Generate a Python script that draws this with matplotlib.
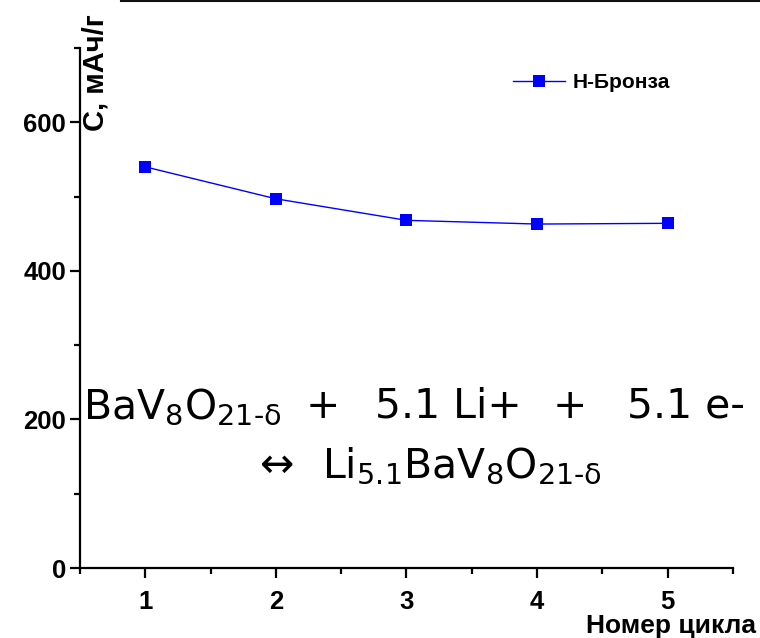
import matplotlib
matplotlib.use("Agg")
import matplotlib.pyplot as plt
from matplotlib.ticker import MultipleLocator
from matplotlib.lines import Line2D

# Discharge capacity by cycle number
cycles = [1, 2, 3, 4, 5]
capacity = [540, 497, 468, 463, 464]
series_name = "Н-Бронза"
x_label = "Номер цикла"
y_label = "C, мАч/г"
y_ticks = [0, 200, 400, 600]

W, H = 760, 638
fig = plt.figure(figsize=(W / 100, H / 100), dpi=100)
ax = fig.add_axes([80 / W, 1 - 568 / H, (733 - 80) / W, (568 - 48) / H])

bold = dict(family="Liberation Sans", weight="bold")


def fx(px):
    return px / W


def fy(py):
    return 1 - py / H


ax.plot(cycles, capacity, color="#0000ff", lw=1.0, marker="s", ms=8,
        markeredgewidth=0, label=series_name)

ax.set_xlim(0.5, 5.5)
ax.set_ylim(0, 700)
ax.set_xticks(cycles)
ax.set_yticks(y_ticks)
ax.xaxis.set_minor_locator(MultipleLocator(0.5))
ax.yaxis.set_minor_locator(MultipleLocator(100))

for s in ("top", "right"):
    ax.spines[s].set_visible(False)
for s in ("left", "bottom"):
    ax.spines[s].set_linewidth(1.6)

ax.tick_params(which="major", length=7, width=1.6, direction="out")
ax.tick_params(which="minor", length=4.5, width=1.6, direction="out")
ax.tick_params(axis="y", pad=3)
ax.tick_params(axis="x", pad=9)
for lab in ax.get_xticklabels() + ax.get_yticklabels():
    lab.set_family("Liberation Sans")
    lab.set_weight("bold")
    lab.set_fontsize(18.5)

# axis titles
fig.text(fx(756), fy(633), x_label, ha="right", va="baseline",
         fontsize=19, **bold)
fig.text(fx(95), fy(73), y_label, ha="center", va="center",
         rotation=90, fontsize=21, **bold)

# legend
ax.legend(loc="center left", bbox_to_anchor=(fx(513), fy(83)),
          bbox_transform=fig.transFigure, frameon=False,
          prop=dict(family="Liberation Sans", weight="bold", size=15),
          handlelength=2.5, handletextpad=0.35, borderpad=0,
          borderaxespad=0)

# reaction equation, first line then second line
plt.rcParams["mathtext.fontset"] = "dejavusans"
eq_kw = dict(family="DejaVu Sans", fontsize=29.5, va="baseline")
fig.text(fx(83), fy(418), r"$\mathregular{BaV_8O_{21‐δ}}$", ha="left", **eq_kw)
fig.text(fx(323), fy(418), "+", ha="center", **eq_kw)
fig.text(fx(375), fy(418), "5.1 Li+", ha="left", **eq_kw)
fig.text(fx(570), fy(418), "+", ha="center", **eq_kw)
fig.text(fx(745), fy(418), "5.1 e-", ha="right", **eq_kw)
fig.text(fx(260), fy(477), "↔", ha="left", **eq_kw)
fig.text(fx(322), fy(477), r"$\mathregular{Li_{5.1}BaV_8O_{21‐δ}}$",
         ha="left", **eq_kw)

# dark edge along the top
fig.add_artist(Line2D([fx(121), 1], [fy(1), fy(1)],
                      transform=fig.transFigure, color="#111111", lw=1.5))

fig.savefig("out.png", dpi=100)
